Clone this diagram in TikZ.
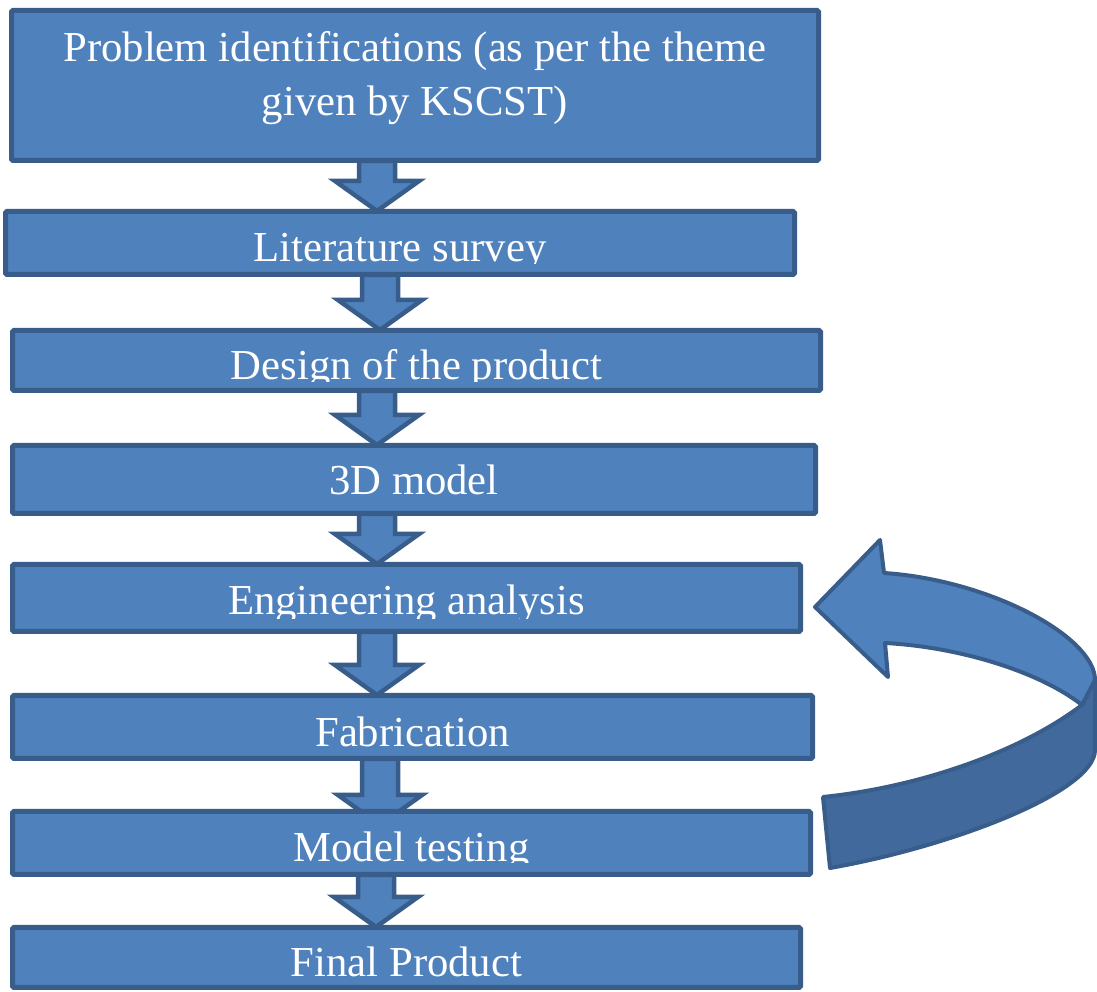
\documentclass[tikz,border=0pt]{standalone}
\usepackage{fontspec}
\setmainfont{Liberation Serif}
\usetikzlibrary{calc}
\definecolor{boxfill}{HTML}{4F81BD}
\definecolor{boxline}{HTML}{385D8A}
\definecolor{loopback}{HTML}{41699B}
\pgfdeclarelayer{back}
\pgfsetlayers{back,main}

\tikzset{
  stepbox/.style={draw=boxline, fill=boxfill, line width=5pt, rounded corners=1.5pt, inner sep=0pt},
  steptext/.style={text=white, inner sep=0pt, anchor=base, font=\fontsize{42.7}{54}\selectfont},
  blockarrow/.style={draw=boxline, fill=boxfill, line width=4.5pt, line join=miter},
  loopband/.style={draw=boxline, fill=boxfill, line width=4pt, line join=round},
}

% fat arrow going down from one box to the next
\newcommand{\flowdown}[4][0]{%
  \draw[blockarrow] let \p1=(#3.south), \p2=(#4.north) in
    (#2-18,\y1+2) -- (#2+18,\y1+2) -- (#2+18,\y2+28-#1) -- (#2+42,\y2+28-#1)
    -- (#2,\y2-2-#1) -- (#2-42,\y2+28-#1) -- (#2-18,\y2+28-#1) -- cycle;}

\begin{document}
\begin{tikzpicture}[x=1pt,y=1pt]
\useasboundingbox (0,0) rectangle (1097,992);

\node[stepbox, minimum width=807pt, minimum height=150pt] (prob) at (415,906.5) {};
\node[stepbox, minimum width=789pt, minimum height=63pt] (lit) at (400,749) {};
\node[stepbox, minimum width=808pt, minimum height=60pt] (design) at (416.5,631.5) {};
\node[stepbox, minimum width=803pt, minimum height=68pt] (model) at (414,512.5) {};
\node[stepbox, minimum width=788pt, minimum height=67pt] (eng) at (406.5,394) {};
\node[stepbox, minimum width=800pt, minimum height=63pt] (fab) at (412.5,265) {};
\node[stepbox, minimum width=798pt, minimum height=63pt] (test) at (411.5,149) {};
\node[stepbox, minimum width=788pt, minimum height=60pt] (final) at (406.5,34.5) {};

\flowdown{377}{prob}{lit}
\flowdown{380}{lit}{design}
\flowdown{377}{design}{model}
\flowdown{377}{model}{eng}
\flowdown{377}{eng}{fab}
\begin{pgfonlayer}{back}
\flowdown[14]{380}{fab}{test}
\end{pgfonlayer}
\flowdown{376}{test}{final}

\begin{scope}
\clip (prob.north west) rectangle (prob.south east)
      (lit.north west) rectangle ([yshift=13pt]lit.south east)
      (design.north west) rectangle ([yshift=11pt]design.south east)
      (model.north west) rectangle (model.south east)
      (eng.north west) rectangle ([yshift=15pt]eng.south east)
      (fab.north west) rectangle (fab.south east)
      (test.north west) rectangle ([yshift=14pt]test.south east)
      (final.north west) rectangle (final.south east);
\node[steptext, align=center, anchor=center] (prob-label) at (415,914) {Problem identifications (as per the theme\\given by KSCST)};
\node[steptext] (lit-label) at ([yshift=15pt]lit.south) {Literature survey};
\node[steptext] (design-label) at ([yshift=13pt]design.south) {Design of the product};
\node[steptext] (model-label) at ([yshift=21pt]model.south) {3D model};
\node[steptext] (eng-label) at ([yshift=19pt]eng.south) {Engineering analysis};
\node[steptext] (fab-label) at ([yshift=14pt]fab.south) {Fabrication};
\node[steptext] (test-label) at ([yshift=15pt]test.south) {Model testing};
\node[steptext] (final-label) at ([yshift=13pt]final.south) {Final Product};
\end{scope}

% loop back from testing to analysis
\coordinate (looptip) at ([shift={(12pt,-9pt)}]eng.east);
\coordinate (looptail) at ([shift={(10pt,46pt)}]test.east);
\draw[loopband, fill=loopback] (1082,287) .. controls (1020,240) and (920,205) .. (looptail)
  -- (830,124) .. controls (950,145) and (1095,200) .. (1095,242) -- (1095,312) -- cycle;
\draw[loopband] (looptip) -- (880,452) -- (884,419) .. controls (990,412) and (1095,355) .. (1095,312)
  -- (1082,287) .. controls (1040,320) and (960,345) .. (885,349) -- (888,315) -- cycle;
\end{tikzpicture}
\end{document}
